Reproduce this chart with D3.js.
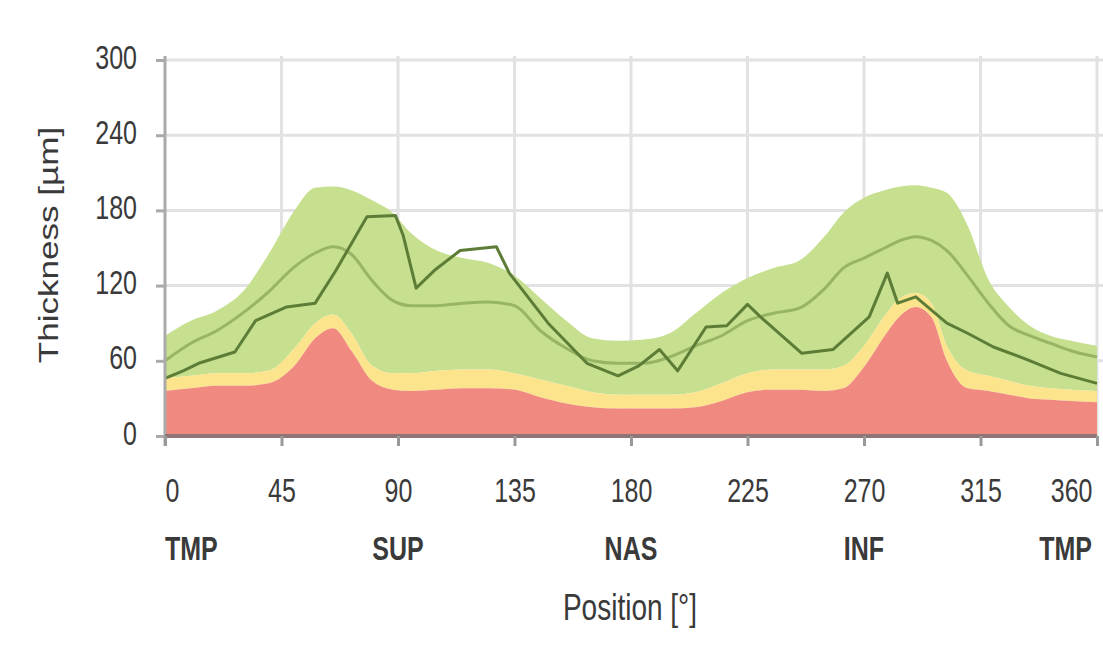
<!DOCTYPE html>
<html>
<head>
<meta charset="utf-8">
<script src="https://cdn.jsdelivr.net/npm/d3@7"></script>
<style>
  body { margin: 0; background: #fff; }
  text { font-family: 'Liberation Sans', Arial, sans-serif; fill: #3a3a3a; }
</style>
</head>
<body>
<div class="row"></div>
<script>
// normative bands (percentiles) along the scan circle, in degrees
var positions = [0, 10, 20, 30, 40, 50, 58, 65, 72, 80, 88, 95, 105, 115, 125, 135, 145, 155, 165, 175,
  185, 195, 205, 215, 225, 235, 245, 255, 262, 270, 278, 284, 290, 296, 302, 310, 318, 326, 334, 342, 350, 360]
// top of the red area (outside normal limits)
var redTop = [36, 38, 40, 40, 42, 56, 78, 86, 68, 44, 37, 36, 37, 38, 38, 37, 31, 26, 23, 22,
  22, 22, 23, 28, 35, 37, 37, 36, 38, 55, 80, 96, 103, 95, 60, 38, 36, 33, 30, 29, 28, 27]
// top of the yellow area (borderline)
var yellowTop = [46, 48, 50, 50, 52, 70, 90, 97, 82, 56, 50, 50, 52, 53, 53, 50, 45, 40, 35, 33,
  33, 33, 35, 42, 50, 53, 53, 53, 56, 72, 96, 110, 114, 106, 72, 52, 48, 44, 40, 38, 37, 36]
// top of the green area (within normal limits)
var greenTop = [80, 92, 100, 115, 145, 180, 198, 199, 196, 188, 178, 162, 148, 142, 138, 128, 110, 92, 78, 76,
  77, 82, 98, 114, 126, 134, 140, 160, 178, 190, 196, 199, 200, 198, 194, 168, 125, 103, 88, 80, 76, 72]
// normative mean
var meanLine = [60, 74, 84, 98, 115, 135, 146, 151, 145, 124, 108, 104, 104, 106, 107, 104, 84, 70, 60, 58,
  58, 63, 72, 80, 92, 98, 102, 118, 134, 142, 150, 156, 159, 156, 148, 128, 106, 88, 80, 74, 68, 63]

// measured thickness of the patient
var patientPos = [0, 7, 13, 27, 35, 47, 58, 66, 78, 89, 92, 97, 104, 114, 128, 133, 148, 163, 175, 183,
  191, 198, 209, 217, 225, 230, 246, 258, 272, 279, 283, 290, 302, 310, 320, 333, 346, 360]
var patientVal = [46, 52, 58, 67, 92, 103, 106, 132, 175, 176, 160, 118, 132, 148, 151, 130, 90, 58, 48, 56,
  69, 52, 87, 88, 105, 95, 66, 69, 95, 130, 106, 111, 90, 82, 71, 61, 50, 42]

var xTicks = [0, 45, 90, 135, 180, 225, 270, 315, 360]
var yTicks = [0, 60, 120, 180, 240, 300]
var sectorPos = [0, 90, 180, 270, 360]
var sectorNames = ['TMP', 'SUP', 'NAS', 'INF', 'TMP']

var width = 1103
var height = 651
// the picture is stretched vertically, so text is too
var stretch = 1.3

var svg = d3.select('.row')
  .append('svg')
  .attr('width', width)
  .attr('height', height)

var x = d3.scaleLinear().domain([0, 360]).range([165, 1097])
var y = d3.scaleLinear().domain([0, 300]).range([436, 60])

var rows = positions.map(function (p, i) {
  return { p: p, red: redTop[i], yellow: yellowTop[i], green: greenTop[i], mean: meanLine[i] }
})
var patient = patientPos.map(function (p, i) {
  return { p: p, v: patientVal[i] }
})

// grid lines
svg.append('g')
  .attr('class', 'grid')
  .selectAll('line.h')
  .data(yTicks.filter(function (d) { return d > 0 }))
  .enter().append('line')
  .attr('x1', x(0))
  .attr('x2', width)
  .attr('y1', function (d) { return y(d) })
  .attr('y2', function (d) { return y(d) })
  .attr('stroke', '#e2e2e2')
  .attr('stroke-width', 3)

svg.append('g')
  .attr('class', 'grid')
  .selectAll('line.v')
  .data(xTicks.filter(function (d) { return d > 0 }))
  .enter().append('line')
  .attr('x1', function (d) { return x(d) })
  .attr('x2', function (d) { return x(d) })
  .attr('y1', y(300) - 4)
  .attr('y2', y(0))
  .attr('stroke', '#e2e2e2')
  .attr('stroke-width', 3)

// bands
function band (lo, hi) {
  return d3.area()
    .x(function (d) { return x(d.p) })
    .y0(function (d) { return lo(d) })
    .y1(function (d) { return y(hi(d)) })
    .curve(d3.curveMonotoneX)
}

svg.append('path')
  .datum(rows)
  .attr('fill', '#c6e090')
  .attr('d', band(function (d) { return y(d.yellow) }, function (d) { return d.green }))

svg.append('path')
  .datum(rows)
  .attr('fill', '#fbe48c')
  .attr('d', band(function (d) { return y(d.red) }, function (d) { return d.yellow }))

svg.append('path')
  .datum(rows)
  .attr('fill', '#f08a80')
  .attr('d', band(function () { return y(0) }, function (d) { return d.red }))

// mean line
svg.append('path')
  .datum(rows)
  .attr('fill', 'none')
  .attr('stroke', '#97b565')
  .attr('stroke-width', 3)
  .attr('d', d3.line()
    .x(function (d) { return x(d.p) })
    .y(function (d) { return y(d.mean) })
    .curve(d3.curveMonotoneX))

// patient line
svg.append('path')
  .datum(patient)
  .attr('fill', 'none')
  .attr('stroke', '#5d7d36')
  .attr('stroke-width', 3)
  .attr('stroke-linejoin', 'round')
  .attr('d', d3.line()
    .x(function (d) { return x(d.p) })
    .y(function (d) { return y(d.v) }))

// y axis
var yAxis = d3.axisLeft(y).tickValues(yTicks).tickSize(9).tickFormat(d3.format('d'))
var gy = svg.append('g')
  .attr('class', 'y axis')
  .attr('transform', 'translate(' + x(0) + ',0)')
  .call(yAxis)
gy.select('.domain').attr('stroke', '#aaaaaa').attr('stroke-width', 3)
  .attr('d', 'M0,' + (y(300) - 4) + 'V' + (y(0) + 10))
gy.selectAll('.tick line').attr('stroke', '#aaaaaa').attr('stroke-width', 3)
gy.selectAll('.tick text')
  .attr('x', null)
  .attr('dy', null)
  .attr('font-size', '25px')
  .attr('transform', 'translate(-28,8) scale(1,' + stretch + ')')
  .style('font-family', null)

// x axis
var xAxis = d3.axisBottom(x).tickValues(xTicks).tickSize(10).tickFormat(d3.format('d'))
var gx = svg.append('g')
  .attr('class', 'x axis')
  .attr('transform', 'translate(0,' + y(0) + ')')
  .call(xAxis)
gx.select('.domain').attr('stroke', '#8f7676').attr('stroke-width', 4)
  .attr('d', 'M' + x(0) + ',0H' + x(360))
gx.selectAll('.tick line').attr('stroke', '#999999').attr('stroke-width', 3)
gx.selectAll('.tick text')
  .attr('y', null)
  .attr('dy', null)
  .attr('font-size', '25px')
  .attr('transform', 'translate(0,66) scale(1,' + stretch + ')')
  .attr('text-anchor', function (d, i) {
    return i === 0 ? 'start' : (i === xTicks.length - 1 ? 'end' : 'middle')
  })
  .attr('x', function (d, i) { return i === xTicks.length - 1 ? -5 : 0 })
  .style('font-family', null)

// sector names under the ticks
svg.selectAll('.sector')
  .data(sectorNames)
  .enter().append('text')
  .attr('class', 'sector')
  .attr('transform', function (d, i) {
    return 'translate(' + (x(sectorPos[i]) + (i === sectorNames.length - 1 ? -5 : 0)) + ',560) scale(1,' + stretch + ')'
  })
  .attr('text-anchor', function (d, i) {
    return i === 0 ? 'start' : (i === sectorNames.length - 1 ? 'end' : 'middle')
  })
  .attr('font-size', '25px')
  .attr('font-weight', 'bold')
  .text(function (d) { return d })

// axis titles
svg.append('text')
  .attr('class', 'x label')
  .attr('transform', 'translate(630,620) scale(1,' + stretch + ')')
  .attr('text-anchor', 'middle')
  .attr('font-size', '28px')
  .text('Position [°]')

svg.append('text')
  .attr('class', 'y label')
  .attr('transform', 'translate(58,245) rotate(-90) scale(' + stretch + ',1)')
  .attr('text-anchor', 'middle')
  .attr('font-size', '27px')
  .text('Thickness [µm]')
</script>
</body>
</html>
